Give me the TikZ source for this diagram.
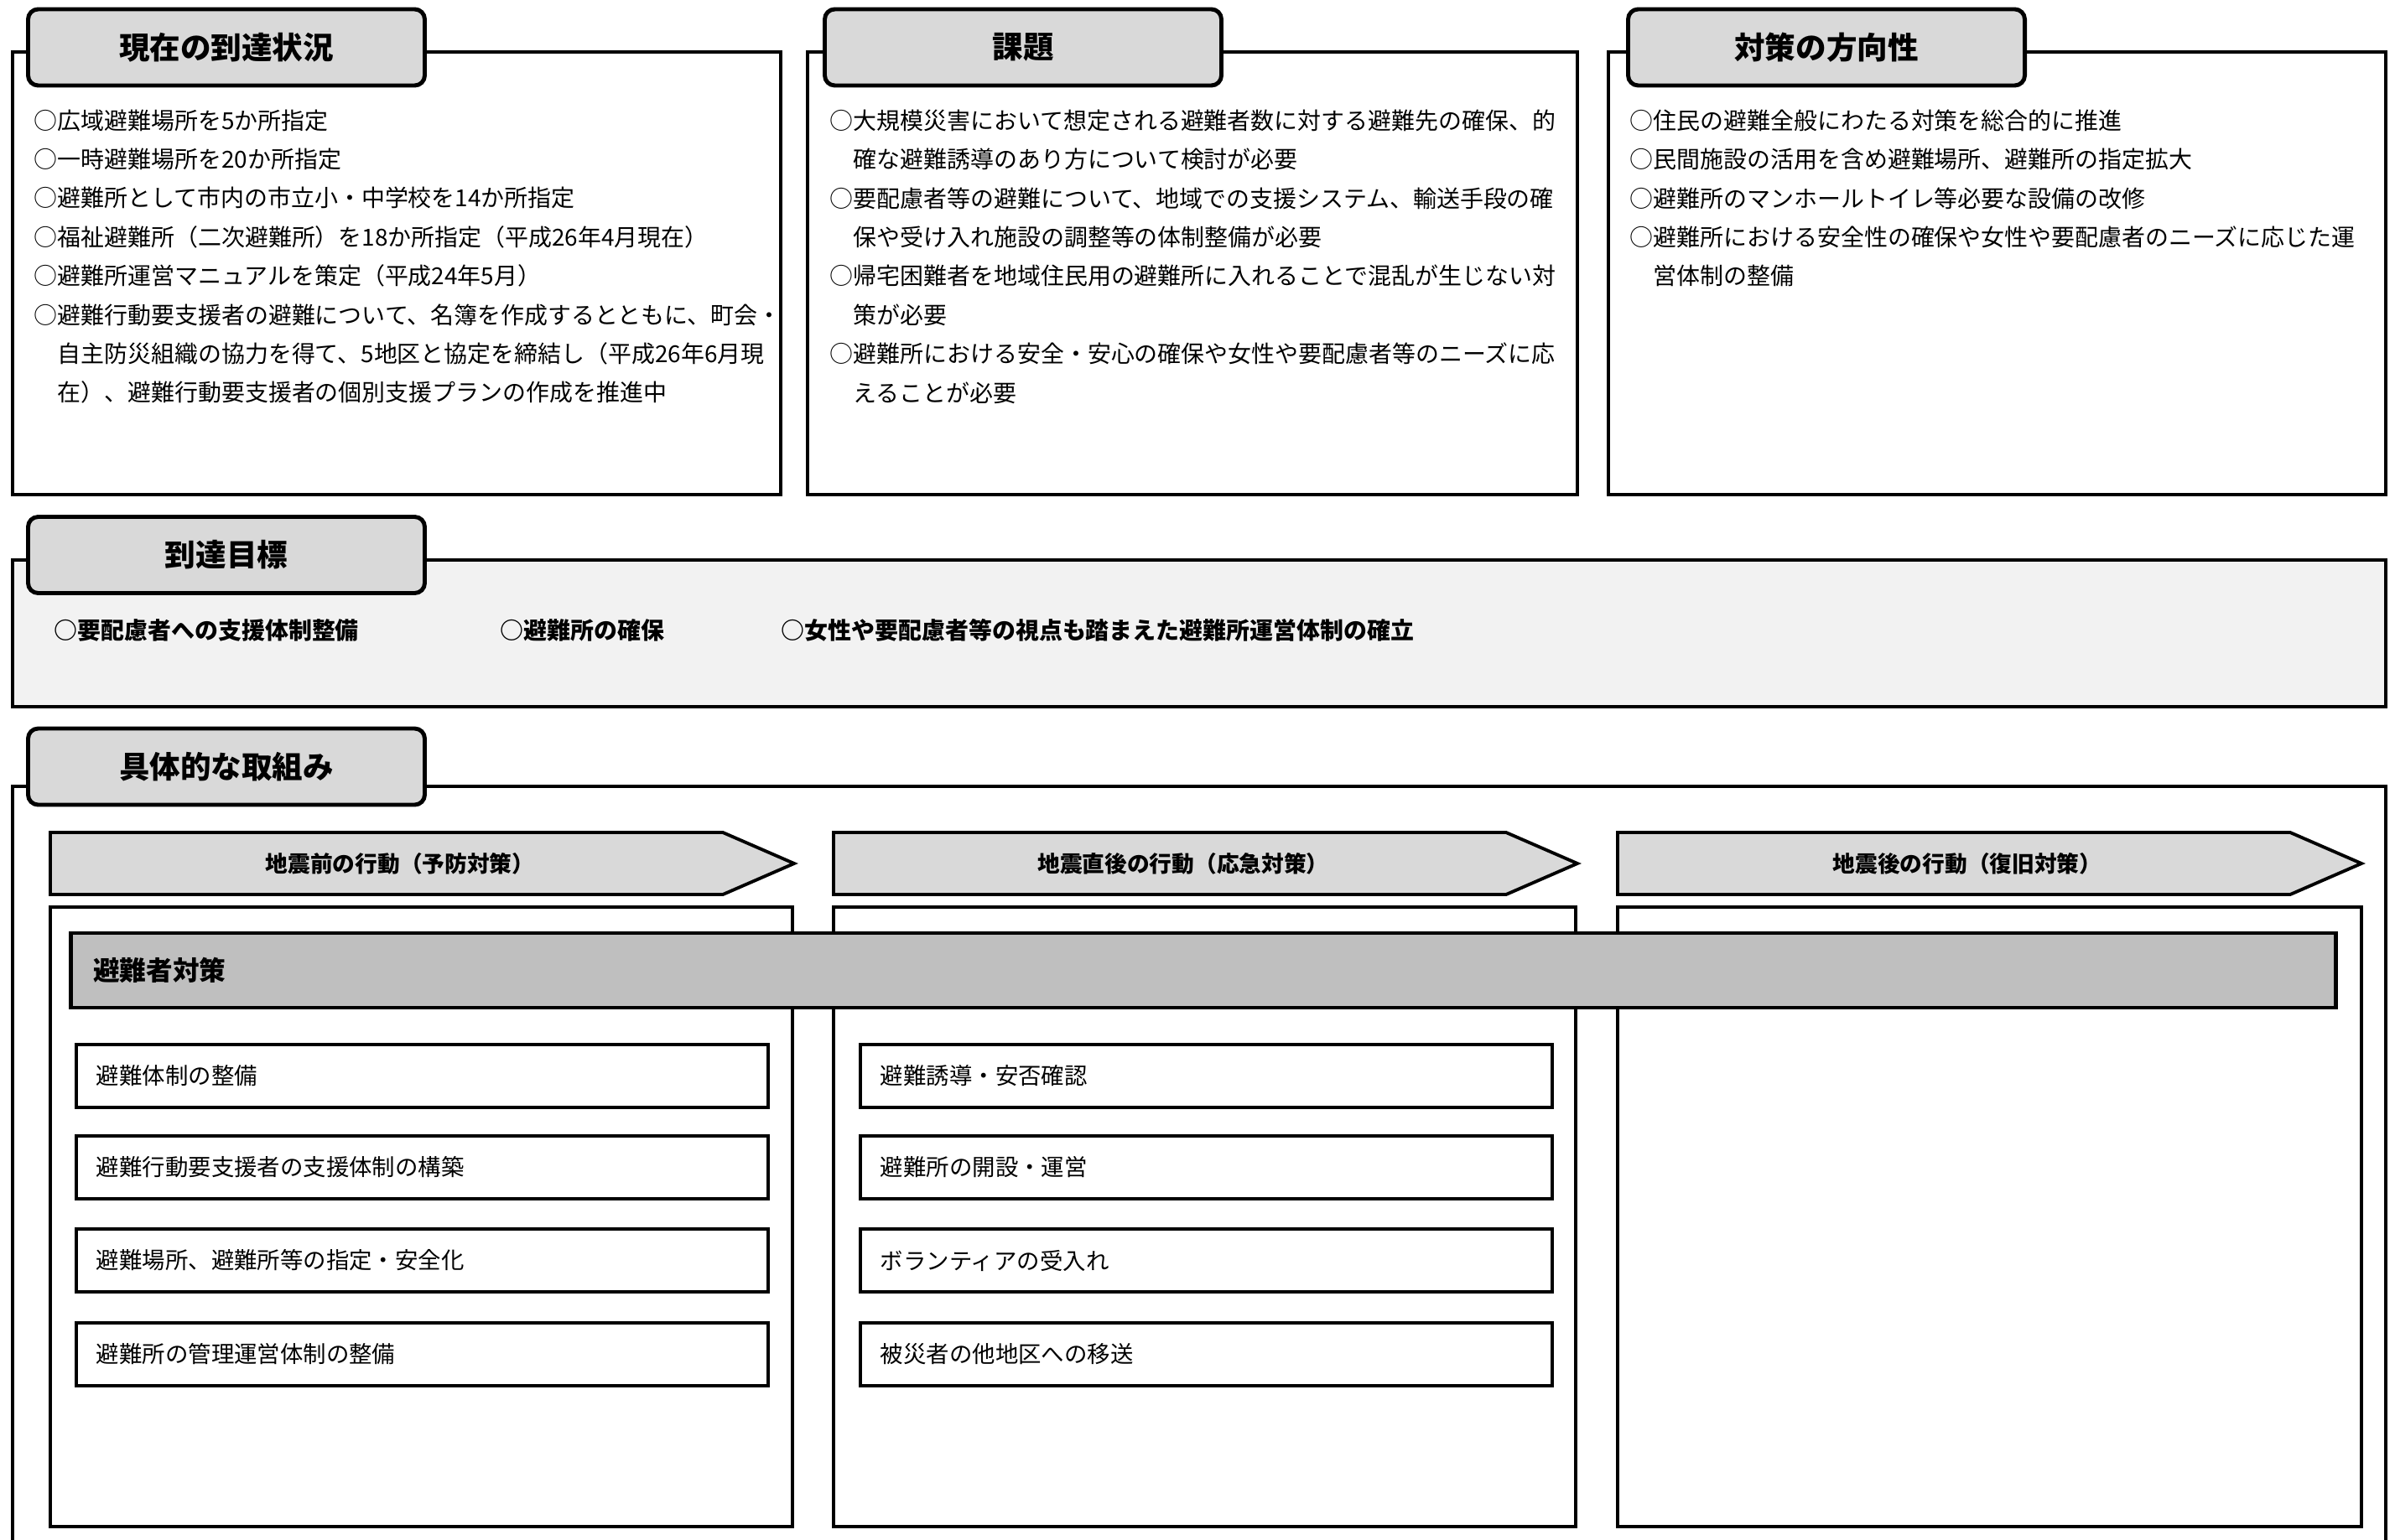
\documentclass[tikz,border=0pt]{standalone}
\usepackage{fontspec}
\setmainfont{Noto Sans CJK JP}
\definecolor{tabgray}{HTML}{D9D9D9}
\definecolor{goalgray}{HTML}{F2F2F2}
\definecolor{bargray}{HTML}{BFBFBF}
\tikzset{
  panel/.style={draw, line width=1.2pt},
  tabbox/.style={draw, line width=1.4pt, fill=tabgray, rounded corners=0.12cm,
    minimum width=4.73cm, minimum height=0.91cm,
    font=\bfseries\fontsize{10.4pt}{12pt}\selectfont},
  body/.style={anchor=north west, inner sep=0pt, align=left,
    font=\fontsize{7.95pt}{13.2pt}\selectfont},
  goal/.style={anchor=west, inner sep=0pt, font=\bfseries\fontsize{7.95pt}{10pt}\selectfont},
  phase/.style={draw, line width=1.1pt, fill=tabgray},
  phasetxt/.style={inner sep=0pt, font=\bfseries\fontsize{7.6pt}{9pt}\selectfont},
  colbox/.style={draw, line width=1.1pt},
  itembox/.style={draw, line width=1.1pt, anchor=west, minimum height=0.75cm,
    text width=7.77cm, inner xsep=0.24cm, align=left,
    font=\fontsize{7.8pt}{10pt}\selectfont},
}
\begin{document}
\begin{tikzpicture}[y=-1cm]
\useasboundingbox (0,0) rectangle (28.56,18.36);

\draw[panel] (0.15,0.62) rectangle (9.31,5.90);
\draw[panel] (9.63,0.62) rectangle (18.81,5.90);
\draw[panel] (19.18,0.62) rectangle (28.45,5.90);
\node[tabbox] (genjo) at (2.70,0.565) {現在の到達状況};
\node[tabbox] (kadai) at (12.20,0.565) {課題};
\node[tabbox] (hoko) at (21.78,0.565) {対策の方向性};

\node[body] (genjotxt) at (0.40,1.30) {○広域避難場所を5か所指定\\
○一時避難場所を20か所指定\\
○避難所として市内の市立小・中学校を14か所指定\\
○福祉避難所（二次避難所）を18か所指定（平成26年4月現在）\\
○避難所運営マニュアルを策定（平成24年5月）\\
○避難行動要支援者の避難について、名簿を作成するとともに、町会・\\
\hspace*{1em}自主防災組織の協力を得て、5地区と協定を締結し（平成26年6月現\\
\hspace*{1em}在）、避難行動要支援者の個別支援プランの作成を推進中};
\node[body] (kadaitxt) at (9.89,1.30) {○大規模災害において想定される避難者数に対する避難先の確保、的\\
\hspace*{1em}確な避難誘導のあり方について検討が必要\\
○要配慮者等の避難について、地域での支援システム、輸送手段の確\\
\hspace*{1em}保や受け入れ施設の調整等の体制整備が必要\\
○帰宅困難者を地域住民用の避難所に入れることで混乱が生じない対\\
\hspace*{1em}策が必要\\
○避難所における安全・安心の確保や女性や要配慮者等のニーズに応\\
\hspace*{1em}えることが必要};
\node[body] (hokotxt) at (19.43,1.30) {○住民の避難全般にわたる対策を総合的に推進\\
○民間施設の活用を含め避難場所、避難所の指定拡大\\
○避難所のマンホールトイレ等必要な設備の改修\\
○避難所における安全性の確保や女性や要配慮者のニーズに応じた運\\
\hspace*{1em}営体制の整備};

\draw[panel, fill=goalgray] (0.15,6.68) rectangle (28.45,8.43);
\node[tabbox] (mokuhyo) at (2.70,6.62) {到達目標};
\node[goal] (shien) at (0.64,7.52) {○要配慮者への支援体制整備};
\node[goal] (kakuho) at (5.96,7.52) {○避難所の確保};
\node[goal] (unei) at (9.31,7.52) {○女性や要配慮者等の視点も踏まえた避難所運営体制の確立};

\draw[panel] (0.15,18.6) -- (0.15,9.38) -- (28.45,9.38) -- (28.45,18.6);
\node[tabbox] (torikumi) at (2.70,9.145) {具体的な取組み};

\draw[phase] (0.60,9.93) -- (8.62,9.93) -- (9.47,10.30) -- (8.62,10.67) -- (0.60,10.67) -- cycle;
\draw[phase] (9.94,9.93) -- (17.96,9.93) -- (18.81,10.30) -- (17.96,10.67) -- (9.94,10.67) -- cycle;
\draw[phase] (19.29,9.93) -- (27.31,9.93) -- (28.16,10.30) -- (27.31,10.67) -- (19.29,10.67) -- cycle;
\node[phasetxt] (yobo) at (4.77,10.30) {地震前の行動（予防対策）};
\node[phasetxt] (okyu) at (14.11,10.30) {地震直後の行動（応急対策）};
\node[phasetxt] (fukkyu) at (23.46,10.30) {地震後の行動（復旧対策）};

\draw[colbox] (0.60,10.82) rectangle (9.45,18.21);
\draw[colbox] (9.94,10.82) rectangle (18.79,18.21);
\draw[colbox] (19.29,10.82) rectangle (28.16,18.21);

\node[draw, line width=1.3pt, fill=bargray, anchor=west, minimum height=0.89cm,
  text width=26.47cm, inner xsep=0.27cm, align=left,
  font=\bfseries\fontsize{9pt}{11pt}\selectfont] (hinansha) at (0.82,11.575) {避難者対策};

\node[itembox] (taisei) at (0.89,12.835) {避難体制の整備};
\node[itembox] (yoshien) at (0.89,13.925) {避難行動要支援者の支援体制の構築};
\node[itembox] (shitei) at (0.89,15.035) {避難場所、避難所等の指定・安全化};
\node[itembox] (kanri) at (0.89,16.155) {避難所の管理運営体制の整備};
\node[itembox] (yudo) at (10.24,12.835) {避難誘導・安否確認};
\node[itembox] (kaisetsu) at (10.24,13.925) {避難所の開設・運営};
\node[itembox] (volunteer) at (10.24,15.035) {ボランティアの受入れ};
\node[itembox] (iso) at (10.24,16.155) {被災者の他地区への移送};
\end{tikzpicture}
\end{document}
